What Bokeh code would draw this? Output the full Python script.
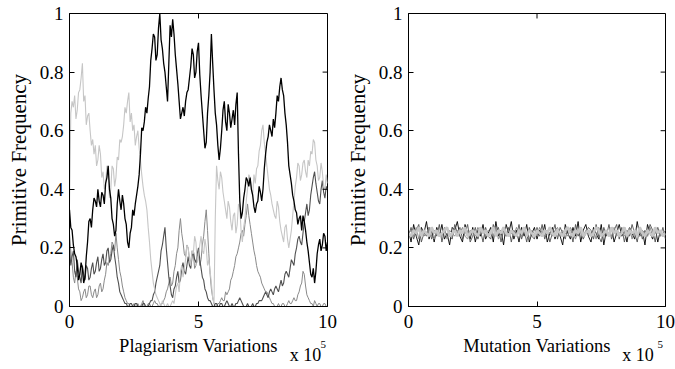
from bokeh.plotting import figure
from bokeh.models import LinearAxis, Range1d, FixedTicker
from bokeh.layouts import row
from bokeh.embed import file_html
from bokeh.resources import INLINE

# ---------------- data ----------------
x_ticks = [0, 5, 10]
x_tick_labels = ["0", "5", "10"]
y_ticks = [0, 0.2, 0.4, 0.6, 0.8, 1.0]
y_tick_labels = ["0", "0.2", "0.4", "0.6", "0.8", "1"]

# sample positions (in units of 10^5 variations)
steps_plag = [i / 20 for i in range(201)]
steps_mut = [i / 10 for i in range(101)]

plag_black = [
    0.33, 0.27, 0.26, 0.21, 0.18, 0.17, 0.14, 0.09, 0.11, 0.15, 0.13, 0.08, 0.10, 0.17, 0.22, 0.29, 0.30, 0.27, 0.33, 0.37,
    0.36, 0.34, 0.40, 0.36, 0.34, 0.39, 0.38, 0.35, 0.42, 0.44, 0.48, 0.40, 0.37, 0.30, 0.28, 0.24, 0.26, 0.35, 0.40, 0.36,
    0.33, 0.38, 0.35, 0.30, 0.28, 0.22, 0.20, 0.25, 0.27, 0.33, 0.31, 0.35, 0.38, 0.41, 0.45, 0.52, 0.61, 0.60, 0.63, 0.68,
    0.66, 0.71, 0.75, 0.84, 0.88, 0.93, 0.92, 0.84, 0.86, 0.95, 1.00, 0.91, 0.88, 0.83, 0.80, 0.75, 0.70, 0.83, 0.96, 0.92,
    0.98, 0.93, 0.86, 0.81, 0.76, 0.70, 0.64, 0.66, 0.68, 0.65, 0.70, 0.73, 0.74, 0.78, 0.82, 0.88, 0.86, 0.78, 0.80, 0.87,
    0.90, 0.79, 0.72, 0.66, 0.60, 0.54, 0.56, 0.66, 0.72, 0.80, 0.93, 0.83, 0.74, 0.66, 0.62, 0.55, 0.50, 0.54, 0.60, 0.67,
    0.70, 0.63, 0.60, 0.69, 0.66, 0.61, 0.64, 0.67, 0.62, 0.69, 0.73, 0.52, 0.36, 0.30, 0.32, 0.37, 0.40, 0.44, 0.43, 0.41,
    0.44, 0.40, 0.38, 0.34, 0.32, 0.35, 0.36, 0.41, 0.39, 0.36, 0.40, 0.47, 0.52, 0.56, 0.58, 0.62, 0.60, 0.58, 0.64, 0.61,
    0.66, 0.72, 0.70, 0.75, 0.78, 0.74, 0.72, 0.66, 0.62, 0.56, 0.48, 0.45, 0.42, 0.38, 0.36, 0.33, 0.32, 0.28, 0.30, 0.31,
    0.26, 0.31, 0.29, 0.26, 0.22, 0.19, 0.15, 0.11, 0.10, 0.13, 0.08, 0.12, 0.18, 0.21, 0.23, 0.19, 0.21, 0.25, 0.24, 0.19,
    0.22]

plag_light = [
    0.35, 0.66, 0.70, 0.68, 0.72, 0.64, 0.67, 0.73, 0.74, 0.78, 0.83, 0.70, 0.72, 0.62, 0.65, 0.66, 0.60, 0.55, 0.57, 0.52,
    0.55, 0.48, 0.50, 0.55, 0.52, 0.44, 0.46, 0.40, 0.42, 0.48, 0.45, 0.37, 0.40, 0.48, 0.47, 0.41, 0.44, 0.51, 0.50, 0.57,
    0.56, 0.58, 0.62, 0.68, 0.66, 0.70, 0.73, 0.63, 0.66, 0.60, 0.62, 0.55, 0.58, 0.60, 0.54, 0.50, 0.45, 0.41, 0.38, 0.36,
    0.33, 0.27, 0.22, 0.16, 0.12, 0.08, 0.06, 0.04, 0.03, 0.02, 0.01, 0.00, 0.02, 0.01, 0.00, 0.00, 0.01, 0.00, 0.00, 0.01,
    0.02, 0.01, 0.04, 0.07, 0.08, 0.05, 0.12, 0.14, 0.10, 0.13, 0.16, 0.21, 0.20, 0.16, 0.14, 0.19, 0.18, 0.24, 0.22, 0.15,
    0.17, 0.21, 0.24, 0.19, 0.18, 0.23, 0.20, 0.14, 0.16, 0.12, 0.08, 0.03, 0.01, 0.30, 0.48, 0.43, 0.40, 0.46, 0.44, 0.39,
    0.36, 0.33, 0.30, 0.36, 0.34, 0.29, 0.26, 0.31, 0.32, 0.25, 0.28, 0.35, 0.34, 0.26, 0.22, 0.27, 0.30, 0.36, 0.40, 0.45,
    0.44, 0.40, 0.38, 0.45, 0.42, 0.47, 0.48, 0.53, 0.55, 0.60, 0.62, 0.56, 0.52, 0.48, 0.44, 0.40, 0.38, 0.35, 0.33, 0.31,
    0.30, 0.36, 0.34, 0.29, 0.26, 0.24, 0.22, 0.27, 0.28, 0.23, 0.20, 0.23, 0.26, 0.31, 0.36, 0.41, 0.44, 0.49, 0.48, 0.43,
    0.45, 0.49, 0.50, 0.46, 0.44, 0.50, 0.48, 0.53, 0.52, 0.57, 0.56, 0.50, 0.48, 0.43, 0.44, 0.49, 0.46, 0.41, 0.40, 0.45,
    0.42]

plag_dark = [
    0.20, 0.14, 0.17, 0.19, 0.12, 0.10, 0.16, 0.12, 0.10, 0.08, 0.14, 0.11, 0.09, 0.14, 0.13, 0.09, 0.10, 0.13, 0.15, 0.11,
    0.12, 0.15, 0.17, 0.12, 0.13, 0.16, 0.18, 0.14, 0.15, 0.19, 0.20, 0.15, 0.16, 0.19, 0.21, 0.17, 0.14, 0.10, 0.08, 0.05,
    0.04, 0.03, 0.02, 0.01, 0.01, 0.00, 0.00, 0.01, 0.01, 0.00, 0.00, 0.01, 0.01, 0.00, 0.00, 0.00, 0.00, 0.01, 0.01, 0.00,
    0.00, 0.00, 0.01, 0.02, 0.02, 0.04, 0.05, 0.08, 0.10, 0.12, 0.14, 0.19, 0.21, 0.24, 0.27, 0.20, 0.15, 0.10, 0.07, 0.04,
    0.03, 0.06, 0.07, 0.10, 0.12, 0.08, 0.09, 0.13, 0.15, 0.12, 0.11, 0.14, 0.17, 0.14, 0.13, 0.17, 0.19, 0.16, 0.15, 0.18,
    0.20, 0.16, 0.13, 0.10, 0.09, 0.06, 0.05, 0.03, 0.02, 0.02, 0.01, 0.00, 0.00, 0.01, 0.01, 0.00, 0.00, 0.01, 0.01, 0.00,
    0.00, 0.01, 0.02, 0.01, 0.00, 0.00, 0.01, 0.00, 0.00, 0.01, 0.01, 0.02, 0.03, 0.02, 0.01, 0.00, 0.00, 0.00, 0.01, 0.00,
    0.00, 0.00, 0.01, 0.00, 0.00, 0.01, 0.01, 0.02, 0.02, 0.02, 0.03, 0.04, 0.05, 0.04, 0.03, 0.05, 0.06, 0.05, 0.04, 0.06,
    0.07, 0.06, 0.05, 0.07, 0.09, 0.07, 0.08, 0.11, 0.12, 0.11, 0.10, 0.13, 0.16, 0.15, 0.14, 0.18, 0.20, 0.23, 0.24, 0.22,
    0.21, 0.25, 0.29, 0.32, 0.35, 0.31, 0.33, 0.38, 0.41, 0.44, 0.46, 0.42, 0.39, 0.36, 0.35, 0.40, 0.43, 0.39, 0.37, 0.41,
    0.40]

plag_mid = [
    0.25, 0.19, 0.15, 0.10, 0.08, 0.12, 0.10, 0.06, 0.05, 0.02, 0.03, 0.05, 0.06, 0.03, 0.04, 0.07, 0.07, 0.04, 0.03, 0.05,
    0.06, 0.03, 0.04, 0.07, 0.08, 0.05, 0.06, 0.09, 0.11, 0.15, 0.14, 0.16, 0.18, 0.22, 0.21, 0.19, 0.25, 0.20, 0.16, 0.12,
    0.10, 0.07, 0.05, 0.03, 0.02, 0.01, 0.01, 0.00, 0.00, 0.00, 0.01, 0.00, 0.00, 0.01, 0.00, 0.00, 0.01, 0.02, 0.00, 0.00,
    0.00, 0.01, 0.01, 0.00, 0.00, 0.01, 0.02, 0.01, 0.01, 0.00, 0.00, 0.01, 0.01, 0.02, 0.03, 0.05, 0.06, 0.08, 0.10, 0.07,
    0.08, 0.12, 0.14, 0.18, 0.20, 0.26, 0.30, 0.25, 0.22, 0.18, 0.17, 0.21, 0.20, 0.16, 0.15, 0.19, 0.18, 0.13, 0.14, 0.17,
    0.19, 0.14, 0.16, 0.21, 0.24, 0.29, 0.33, 0.26, 0.18, 0.11, 0.06, 0.03, 0.01, 0.00, 0.00, 0.01, 0.01, 0.02, 0.03, 0.02,
    0.02, 0.05, 0.04, 0.05, 0.06, 0.09, 0.10, 0.12, 0.14, 0.17, 0.18, 0.20, 0.22, 0.25, 0.26, 0.24, 0.28, 0.31, 0.35, 0.31,
    0.28, 0.25, 0.22, 0.19, 0.17, 0.14, 0.12, 0.11, 0.10, 0.08, 0.07, 0.06, 0.05, 0.05, 0.04, 0.03, 0.02, 0.01, 0.01, 0.00,
    0.00, 0.00, 0.01, 0.00, 0.00, 0.01, 0.01, 0.00, 0.00, 0.01, 0.02, 0.01, 0.01, 0.02, 0.03, 0.02, 0.02, 0.04, 0.05, 0.07,
    0.08, 0.12, 0.11, 0.07, 0.04, 0.03, 0.02, 0.01, 0.01, 0.00, 0.02, 0.01, 0.00, 0.01, 0.01, 0.00, 0.00, 0.01, 0.01, 0.00,
    0.00]

mut_black = [
    0.26, 0.22, 0.28, 0.24, 0.21, 0.27, 0.25, 0.29, 0.23, 0.26,
    0.22, 0.27, 0.24, 0.28, 0.23, 0.25, 0.21, 0.27, 0.26, 0.29,
    0.24, 0.22, 0.28, 0.25, 0.23, 0.27, 0.22, 0.26, 0.24, 0.28,
    0.23, 0.25, 0.27, 0.22, 0.29, 0.24, 0.26, 0.21, 0.28, 0.25,
    0.29, 0.23, 0.26, 0.22, 0.27, 0.24, 0.28, 0.22, 0.25, 0.27,
    0.23, 0.26, 0.24, 0.28, 0.22, 0.25, 0.27, 0.23, 0.26, 0.24,
    0.21, 0.28, 0.25, 0.23, 0.27, 0.24, 0.29, 0.22, 0.26, 0.28,
    0.24, 0.22, 0.27, 0.25, 0.23, 0.28, 0.21, 0.26, 0.24, 0.27,
    0.22, 0.25, 0.28, 0.24, 0.26, 0.22, 0.27, 0.25, 0.23, 0.29,
    0.24, 0.26, 0.21, 0.28, 0.25, 0.23, 0.27, 0.22, 0.26, 0.24,
    0.25]

mut_dark = [
    0.24, 0.27, 0.23, 0.26, 0.28, 0.22, 0.25, 0.24, 0.27, 0.23,
    0.26, 0.24, 0.28, 0.22, 0.26, 0.27, 0.24, 0.23, 0.28, 0.25,
    0.27, 0.23, 0.25, 0.28, 0.22, 0.24, 0.27, 0.23, 0.26, 0.22,
    0.27, 0.24, 0.23, 0.28, 0.25, 0.27, 0.22, 0.26, 0.24, 0.27,
    0.22, 0.26, 0.24, 0.28, 0.23, 0.26, 0.22, 0.27, 0.24, 0.23,
    0.27, 0.24, 0.28, 0.23, 0.26, 0.22, 0.25, 0.28, 0.23, 0.27,
    0.25, 0.23, 0.27, 0.26, 0.22, 0.28, 0.24, 0.26, 0.23, 0.25,
    0.27, 0.26, 0.23, 0.28, 0.24, 0.22, 0.27, 0.24, 0.28, 0.23,
    0.26, 0.28, 0.23, 0.27, 0.22, 0.26, 0.24, 0.28, 0.25, 0.22,
    0.27, 0.23, 0.26, 0.24, 0.28, 0.26, 0.22, 0.27, 0.24, 0.27,
    0.23]

mut_mid = [
    0.25, 0.26, 0.24, 0.27, 0.23, 0.26, 0.24, 0.25, 0.27, 0.24,
    0.23, 0.26, 0.25, 0.24, 0.27, 0.23, 0.26, 0.25, 0.24, 0.26,
    0.25, 0.27, 0.24, 0.23, 0.26, 0.25, 0.24, 0.27, 0.25, 0.26,
    0.24, 0.26, 0.25, 0.24, 0.27, 0.23, 0.25, 0.26, 0.24, 0.26,
    0.25, 0.24, 0.27, 0.25, 0.24, 0.26, 0.25, 0.23, 0.26, 0.25,
    0.24, 0.27, 0.25, 0.24, 0.26, 0.25, 0.24, 0.26, 0.27, 0.24,
    0.26, 0.25, 0.24, 0.27, 0.25, 0.23, 0.26, 0.25, 0.24, 0.26,
    0.25, 0.24, 0.26, 0.23, 0.27, 0.25, 0.24, 0.26, 0.25, 0.24,
    0.27, 0.24, 0.25, 0.26, 0.24, 0.25, 0.27, 0.23, 0.26, 0.25,
    0.24, 0.26, 0.25, 0.24, 0.27, 0.24, 0.25, 0.26, 0.24, 0.25,
    0.26]

mut_light = [
    0.25, 0.24, 0.26, 0.25, 0.27, 0.24, 0.26, 0.25, 0.24, 0.27,
    0.25, 0.26, 0.24, 0.25, 0.26, 0.27, 0.24, 0.25, 0.26, 0.24,
    0.26, 0.25, 0.27, 0.24, 0.25, 0.26, 0.25, 0.24, 0.27, 0.25,
    0.26, 0.24, 0.25, 0.27, 0.24, 0.26, 0.25, 0.27, 0.25, 0.24,
    0.26, 0.25, 0.24, 0.26, 0.25, 0.27, 0.24, 0.26, 0.25, 0.24,
    0.26, 0.25, 0.24, 0.26, 0.25, 0.27, 0.25, 0.24, 0.26, 0.25,
    0.24, 0.26, 0.27, 0.25, 0.24, 0.26, 0.25, 0.27, 0.24, 0.25,
    0.26, 0.24, 0.25, 0.27, 0.26, 0.24, 0.25, 0.26, 0.24, 0.27,
    0.25, 0.26, 0.24, 0.25, 0.27, 0.24, 0.26, 0.25, 0.26, 0.24,
    0.27, 0.25, 0.24, 0.26, 0.25, 0.24, 0.27, 0.25, 0.26, 0.24,
    0.25]

C_BLACK = "#000000"
C_DARK = "#505050"
C_MID = "#8a8a8a"
C_LIGHT = "#c6c6c6"

FONT = "Liberation Serif"
H = 369


def text_axis(pos, text, size, standoff):
    return LinearAxis(ticker=FixedTicker(ticks=[pos]), major_label_overrides={pos: text},
                      major_tick_in=0, major_tick_out=0, minor_tick_line_color=None,
                      axis_line_color=None, major_label_standoff=standoff,
                      major_label_text_font=FONT, major_label_text_font_size=size,
                      major_label_text_color="black")


def make_panel(width, left, right, xlabel, xs, series, scale_pos):
    p = figure(width=width, height=H, x_range=Range1d(0, 10), y_range=Range1d(0, 1),
               output_backend="svg", toolbar_location=None,
               min_border_left=left, min_border_right=right,
               min_border_top=13, min_border_bottom=63)
    p.background_fill_color = "white"
    p.border_fill_color = "white"
    p.grid.visible = False
    p.outline_line_color = "black"
    p.outline_line_width = 1

    for ys, col, lw in series:
        p.line(xs, ys, line_color=col, line_width=lw)

    # mirrored inward ticks on the top and right edges (from the tick lists)
    dx = 0.19
    dy = 0.017
    p.segment(x0=x_ticks, y0=[1.0] * len(x_ticks), x1=x_ticks, y1=[1.0 - dy] * len(x_ticks),
              line_color="black", line_width=1)
    p.segment(x0=[10.0] * len(y_ticks), y0=y_ticks, x1=[10.0 - dx] * len(y_ticks), y1=y_ticks,
              line_color="black", line_width=1)

    xax = p.xaxis[0]
    yax = p.yaxis[0]
    xax.ticker = FixedTicker(ticks=x_ticks)
    yax.ticker = FixedTicker(ticks=y_ticks)
    xax.major_label_overrides = dict(zip(x_ticks, x_tick_labels))
    yax.major_label_overrides = dict(zip(y_ticks, y_tick_labels))
    for ax in (xax, yax):
        ax.major_tick_in = 5
        ax.major_tick_out = 0
        ax.minor_tick_line_color = None
        ax.axis_line_color = "black"
        ax.major_label_text_font = FONT
        ax.major_label_text_font_size = "19px"
        ax.major_label_text_color = "black"
        ax.axis_label_text_font = FONT
        ax.axis_label_text_font_style = "normal"
        ax.axis_label_text_color = "black"
    xax.axis_label_text_font_size = "18.5px"
    yax.axis_label_text_font_size = "21px"
    xax.axis_label = xlabel
    xax.major_label_standoff = 8
    xax.axis_label_standoff = 5
    yax.axis_label = "Primitive Frequency"
    yax.major_label_standoff = 6
    yax.axis_label_standoff = 6

    # "x 10^5" multiplier, written under the right end of the x axis
    p.add_layout(text_axis(scale_pos[0], "x 10", "18px", -14), "below")
    p.add_layout(text_axis(scale_pos[1], "5", "11px", -27), "below")
    return p


left = make_panel(340, 69, 13, "Plagiarism Variations", steps_plag,
                  [(plag_mid, C_MID, 1.0), (plag_dark, C_DARK, 1.1),
                   (plag_light, C_LIGHT, 1.1), (plag_black, C_BLACK, 1.3)], (9.15, 9.84))
right = make_panel(335, 68, 10, "Mutation Variations", steps_mut,
                   [(mut_black, C_BLACK, 0.9), (mut_dark, C_DARK, 0.9),
                    (mut_mid, C_MID, 1.0), (mut_light, C_LIGHT, 2.6)], (8.93, 9.8))

layout = row(left, right)
open("out.html", "w").write(file_html(layout, INLINE))
